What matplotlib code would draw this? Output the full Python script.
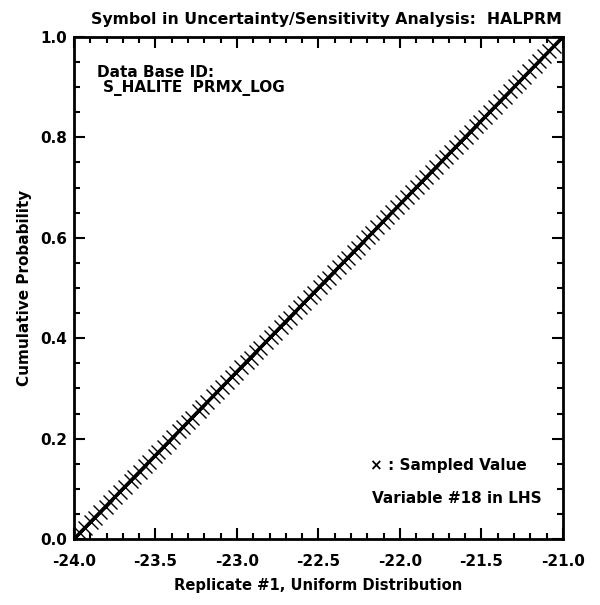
import numpy as np
import matplotlib.pyplot as plt
from matplotlib.ticker import MultipleLocator

plt.rcParams['font.family'] = ['DejaVu Sans']

# uniform distribution bounds (log permeability)
lower, upper = -24.0, -21.0

samples = [
    -23.988, -23.962, -23.935, -23.897, -23.872, -23.838, -23.806, -23.779, -23.748, -23.716,
    -23.688, -23.652, -23.631, -23.597, -23.564, -23.538, -23.506, -23.482, -23.449, -23.418,
    -23.393, -23.356, -23.331, -23.302, -23.275, -23.236, -23.213, -23.181, -23.148, -23.124,
    -23.093, -23.061, -23.032, -23.005, -22.974, -22.941, -22.916, -22.885, -22.856, -22.822,
    -22.794, -22.768, -22.731, -22.705, -22.677, -22.641, -22.616, -22.587, -22.554, -22.528,
    -22.492, -22.466, -22.438, -22.405, -22.377, -22.345, -22.318, -22.284, -22.259, -22.227,
    -22.196, -22.169, -22.138, -22.106, -22.078, -22.047, -22.019, -21.988, -21.957, -21.929,
    -21.898, -21.866, -21.838, -21.805, -21.779, -21.744, -21.719, -21.687, -21.655, -21.628,
    -21.596, -21.567, -21.535, -21.508, -21.476, -21.446, -21.417, -21.384, -21.357, -21.326,
    -21.294, -21.268, -21.238, -21.206, -21.174, -21.146, -21.116, -21.087, -21.054, -21.012,
]

x = np.array(samples)
cdf = (x - lower) / (upper - lower)

fig = plt.figure(figsize=(6.0, 6.05), dpi=100)
ax = fig.add_axes([0.1233, 0.109, 0.815, 0.830])

ax.plot([lower, upper], [0, 1], color='black', lw=2.6, solid_capstyle='butt')
ax.plot(x, cdf, linestyle='none', marker='x', ms=10, mew=1.0, color='black')

ax.set_xlim(lower, upper)
ax.set_ylim(0, 1)
ax.xaxis.set_major_locator(MultipleLocator(0.5))
ax.xaxis.set_minor_locator(MultipleLocator(0.1))
ax.yaxis.set_major_locator(MultipleLocator(0.2))
ax.yaxis.set_minor_locator(MultipleLocator(0.05))
ax.xaxis.set_major_formatter(plt.FormatStrFormatter('%.1f'))
ax.yaxis.set_major_formatter(plt.FormatStrFormatter('%.1f'))

ax.tick_params(which='both', direction='in', top=True, right=True, width=1.5)
ax.tick_params(which='major', length=8, labelsize=11)
ax.tick_params(which='minor', length=4.5)
ax.tick_params(axis='x', which='major', pad=11)
ax.tick_params(axis='y', which='major', pad=5)
for lab in ax.get_xticklabels() + ax.get_yticklabels():
    lab.set_fontweight('bold')
for sp in ax.spines.values():
    sp.set_linewidth(2)

tfont = dict(fontsize=11, fontweight='bold')
ax.set_xlabel('Replicate #1, Uniform Distribution', labelpad=6, fontsize=10.6, fontweight='bold')
ax.set_ylabel('Cumulative Probability', labelpad=6, **tfont)
ax.set_title('Symbol in Uncertainty/Sensitivity Analysis:  HALPRM', pad=9,
             fontsize=11.3, fontweight='bold', x=0.516)

ax.text(0.047, 0.930, 'Data Base ID:', transform=ax.transAxes, va='center', **tfont)
ax.text(0.059, 0.898, 'S_HALITE  PRMX_LOG', transform=ax.transAxes, va='center', **tfont)
ax.text(0.605, 0.147, '\u00d7 : Sampled Value', transform=ax.transAxes, va='center', **tfont)
ax.text(0.609, 0.080, 'Variable #18 in LHS', transform=ax.transAxes, va='center', **tfont)

fig.savefig('out.png', dpi=100)
